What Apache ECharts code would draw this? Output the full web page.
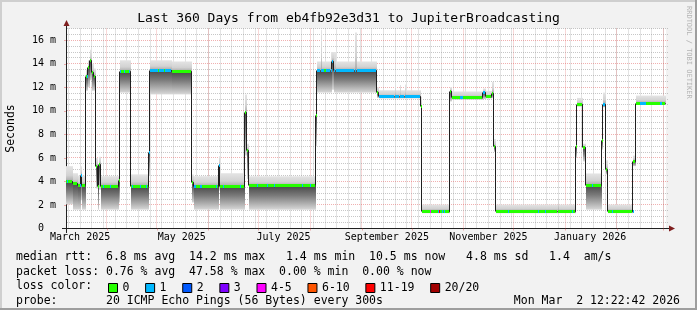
<!DOCTYPE html>
<html>
<head>
<meta charset="utf-8">
<script src="https://cdn.jsdelivr.net/npm/echarts@6.0.0/dist/echarts.min.js"></script>
<style>
html,body{margin:0;padding:0;background:#f2f2f2;overflow:hidden;}
#chart{width:697px;height:310px;}
</style>
</head>
<body>
<div id="chart"></div>
<script>
// ---------------- data ----------------
const titleText = 'Last 360 Days from eb4fb92e3d31 to JupiterBroadcasting';
const startTime = '2025-03-07 12:22:42';
const endTime   = '2026-03-02 12:22:42';

// piecewise segments of the median rtt (ms) and the smoke spread (ms)
const segStart = [
 '2025-03-07 12:22','2025-03-12 00:00','2025-03-14 10:00','2025-03-16 19:30','2025-03-17 09:45',
 '2025-03-19 19:20','2025-03-21 00:10','2025-03-22 05:00','2025-03-23 09:45','2025-03-24 14:30',
 '2025-03-25 19:20','2025-03-26 17:00','2025-03-27 14:30','2025-03-28 15:00','2025-04-08 04:15',
 '2025-04-08 18:40','2025-04-15 14:30','2025-04-26 04:00','2025-04-27 04:30','2025-05-10 09:00',
 '2025-05-22 04:30','2025-05-23 03:25','2025-06-07 03:25','2025-06-08 03:30','2025-06-23 03:40',
 '2025-06-24 03:50','2025-06-25 03:00','2025-08-04 13:00','2025-08-05 03:30','2025-08-07 17:15',
 '2025-08-08 08:00','2025-08-13 12:00','2025-08-14 07:00','2025-08-15 01:00','2025-08-16 16:00',
 '2025-08-28 00:00','2025-08-29 05:00','2025-09-10 03:00','2025-09-11 02:00','2025-09-21 02:00',
 '2025-09-21 16:00','2025-09-24 02:00','2025-09-24 16:00','2025-09-27 02:00','2025-09-27 16:00',
 '2025-10-06 12:15','2025-10-07 02:30','2025-10-24 01:40','2025-10-25 02:15','2025-11-12 20:50',
 '2025-11-14 15:35','2025-11-18 01:40','2025-11-19 00:40','2025-11-20 11:15','2025-12-27 14:00',
 '2025-12-28 08:00','2026-01-07 10:45','2026-01-08 01:00','2026-01-11 23:50','2026-01-13 10:40',
 '2026-01-23 00:30','2026-01-23 23:50','2026-01-25 10:25','2026-01-26 23:50','2026-02-10 23:45',
 '2026-02-12 10:15'
];
const segMedian = [
 4.0, 3.83, 3.66, 4.5, 3.66,
 12.96, 13.68, 14.24, 13.25, 12.96,
 5.3, 3.6, 5.45, 3.6, 4.1,
 13.35, 3.6, 6.5, 13.47, 13.35,
 3.9, 3.6, 5.36, 3.6, 9.85,
 6.6, 3.62, 9.6, 13.42, 13.42,
 13.42, 13.42, 14.2, 13.42, 13.42,
 13.42, 13.42, 11.55, 11.2, 11.2,
 11.2, 11.2, 11.2, 11.2, 11.2,
 10.36, 1.47, 11.68, 11.12, 11.55,
 11.18, 11.5, 6.95, 1.47, 1.47,
 1.47, 6.95, 10.55, 6.87, 3.69,
 7.5, 10.55, 5.0, 1.47, 5.73,
 10.64
];
const segLoss = [
 0,0,0,1,0, 0,0,0,0,0, 0,0,0,0,0, 0,0,1,1,0, 0,0,1,0,0, 0,0,0,1,1,
 1,1,1,1,1, 1,1,0,1,1, 1,1,1,1,1, 0,0,0,0,1, 0,0,0,0,0, 0,0,0,0,0,
 0,1,0,0,0, 0
];
const segMin = [
 2.05, 1.6, 1.6, 2.4, 1.6,
 11.7, 12.0, 12.6, 11.7, 11.7,
 3.4, 1.6, 3.3, 1.6, 2.2,
 11.55, 1.6, 4.5, 11.4, 11.4,
 2.2, 1.6, 3.2, 1.6, 6.2,
 4.2, 1.6, 7.0, 11.55, 11.55,
 11.55, 11.55, 11.8, 11.55, 11.55,
 11.55, 11.55, 11.1, 11.05, 11.05,
 11.05, 11.05, 11.05, 11.05, 11.05,
 10.2, 1.3, 10.8, 10.95, 11.0,
 11.05, 11.1, 6.5, 1.3, 1.3,
 1.3, 6.0, 10.36, 5.7, 1.6,
 6.7, 10.3, 4.6, 1.3, 5.3,
 10.5
];
const segMax = [
 5.3, 4.7, 4.5, 5.3, 4.5,
 13.5, 14.3, 15.2, 14.0, 13.6,
 6.0, 4.8, 6.1, 4.45, 4.9,
 14.3, 4.6, 7.0, 14.3, 14.2,
 4.6, 4.45, 6.15, 4.7, 11.4,
 7.2, 4.45, 10.2, 14.2, 16.9,
 14.2, 15.0, 15.0, 15.0, 14.2,
 16.65, 14.2, 12.0, 11.75, 12.25,
 11.75, 12.2, 11.75, 12.25, 11.75,
 11.2, 2.04, 12.0, 11.65, 11.9,
 11.7, 12.45, 7.6, 2.04, 2.75,
 2.04, 7.3, 11.1, 7.2, 4.68,
 8.0, 11.55, 5.8, 2.04, 6.2,
 11.3
];

// short stretches whose loss colour differs from their segment
const bitFrom = [
 '2025-03-08 05:40','2025-03-15 18:50','2025-03-20 05:30','2025-03-29 14:00','2025-04-02 18:40',
 '2025-04-08 18:40','2025-04-11 14:20','2025-04-14 04:15','2025-04-16 05:10','2025-04-21 04:30',
 '2025-04-24 18:50','2025-05-01 10:00','2025-05-05 10:00','2025-05-23 03:25','2025-05-27 04:00',
 '2025-06-05 18:25','2025-06-09 18:10','2025-06-20 03:40','2025-06-30 03:55','2025-07-06 03:40',
 '2025-07-10 03:00','2025-07-27 03:30','2025-08-01 03:00','2025-08-09 02:30','2025-10-11 16:00',
 '2025-10-16 11:00','2025-10-17 07:10','2025-10-19 02:20','2025-10-20 11:20','2025-10-30 04:20',
 '2025-11-27 12:00','2025-12-15 12:00','2025-12-20 00:00','2026-01-05 00:00','2026-01-17 00:00',
 '2026-01-29 00:00','2026-02-10 10:00','2026-02-15 00:00','2026-02-27 00:00'
];
const bitTo = [
 '2025-03-09 04:40','2025-03-16 15:00','2025-03-20 19:50','2025-03-31 05:00','2025-04-03 14:45',
 '2025-04-09 15:00','2025-04-12 09:00','2025-04-15 04:45','2025-04-17 04:15','2025-04-22 05:00',
 '2025-04-25 13:35','2025-05-02 12:00','2025-05-06 12:00','2025-05-25 04:30','2025-05-28 18:55',
 '2025-06-06 13:05','2025-06-11 03:15','2025-06-21 04:10','2025-07-01 03:00','2025-07-07 02:45',
 '2025-07-11 17:40','2025-07-28 02:40','2025-08-02 03:30','2025-08-11 03:30','2025-10-12 16:30',
 '2025-10-17 07:10','2025-10-18 12:00','2025-10-20 01:20','2025-10-21 11:50','2025-11-01 04:00',
 '2025-11-28 20:00','2025-12-16 20:00','2025-12-21 00:00','2026-01-06 00:00','2026-01-18 00:00',
 '2026-01-29 20:00','2026-02-10 23:45','2026-02-19 00:00','2026-03-01 00:00'
];
const bitLoss = [
 1,1,1,1,1, 1,1,1,1,1, 1,0,0,1,1, 1,1,1,1,1, 1,1,1,0,4, 1,6,1,1,1, 1,1,1,1,1, 1,1,1,1
];

const lossNames = ['0','1','2','3','4-5','6-10','11-19','20/20'];
const yTicks = [0, 2, 4, 6, 8, 10, 12, 14, 16];
const xLabelText = ['March 2025','May 2025','July 2025','September 2025','November 2025','January 2026'];
const xLabelAt = ['2025-03-16','2025-05-16','2025-07-16','2025-09-16','2025-11-16','2026-01-16'];

const statLines = [
 'median rtt:  6.8 ms avg  14.2 ms max   1.4 ms min  10.5 ms now   4.8 ms sd   1.4  am/s',
 'packet loss: 0.76 % avg  47.58 % max  0.00 % min  0.00 % now',
 'loss color:',
 'probe:       20 ICMP Echo Pings (56 Bytes) every 300s'
];
const stampText = 'Mon Mar  2 12:22:42 2026';
const watermark = 'RRDTOOL / TOBI OETIKER';

// ---------------- styles ----------------
const MONO = '"DejaVu Sans Mono", monospace';
const lossColors = ['#26ff00','#00b8ff','#0059ff','#7e00ff','#ff00ff','#ff5500','#ff0000','#a10000'];
const MINOR = 'rgba(143,143,143,0.5)';
const MAJOR = 'rgba(222,80,80,0.45)';

// ---------------- helpers ----------------
function T(s) {
  const m = s.match(/(\d+)-(\d+)-(\d+)(?:[ T](\d+):(\d+)(?::(\d+))?)?/);
  return Date.UTC(+m[1], +m[2] - 1, +m[3], +(m[4] || 0), +(m[5] || 0), +(m[6] || 0));
}
const t0 = T(startTime), t1 = T(endTime);
const segT = segStart.map(T);
const segEnd = segT.map((t, i) => (i + 1 < segT.length ? segT[i + 1] : t1));
function medianAt(t) {
  for (let i = segT.length - 1; i >= 0; i--) if (t >= segT[i]) return segMedian[i];
  return segMedian[0];
}
const xLabelMs = xLabelAt.map(T);
const snap = v => Math.floor(v) + 0.5;

// grid line positions (weeks, months, half-ms)
const gridItems = [];
for (let t = T('2025-03-09'); t < t1; t += 7 * 864e5) if (t > t0) gridItems.push([0, t]);
for (let y = 2025, m = 2; ; ) {
  const t = Date.UTC(y, m, 1);
  if (t > t1) break;
  if (t > t0) gridItems.push([1, t]);
  m++; if (m > 11) { m = 0; y++; }
}
const monthStarts = gridItems.filter(g => g[0] === 1).map(g => g[1]);
for (let k = 1; k <= 34; k++) { const v = k / 2; gridItems.push([v % 2 === 0 ? 3 : 2, v]); }

// ---------------- series ----------------
const series = [];

series.push({
  type: 'custom', name: 'grid', z: 1, silent: true, animation: false,
  data: gridItems, encode: { x: 1, y: 1 },
  renderItem(params, api) {
    const kind = api.value(0), v = api.value(1);
    const pTL = api.coord([t0, 17]), pBR = api.coord([t1, 0]);
    if (kind < 2) {
      const x = snap(api.coord([v, 0])[0]);
      return { type: 'line', z2: kind, shape: { x1: x, y1: pTL[1], x2: x, y2: pBR[1] - 1 },
        style: { stroke: kind ? MAJOR : MINOR, lineWidth: 1, lineDash: [1, 1] } };
    }
    const y = snap(api.coord([t0, v])[1]);
    return { type: 'line', z2: kind, shape: { x1: pTL[0] + 1, y1: y, x2: pBR[0] + 2, y2: y },
      style: { stroke: kind === 3 ? MAJOR : MINOR, lineWidth: 1, lineDash: [1, 1] } };
  }
});

const smokeData = segT.map((t, i) => [t, segEnd[i], segMin[i], segMedian[i], segMax[i]]);
series.push({
  type: 'custom', name: 'smoke', z: 2, silent: true, animation: false,
  data: smokeData, encode: { x: [0, 1], y: [2, 3, 4] },
  renderItem(params, api) {
    const a = api.coord([api.value(0), api.value(3)]);
    const b = api.coord([api.value(1), api.value(3)]);
    const lo = api.coord([api.value(0), api.value(2)]);
    const hi = api.coord([api.value(0), api.value(4)]);
    const x0 = Math.round(a[0]), x1 = Math.round(b[0]);
    const w = Math.max(1, x1 - x0);
    const ym = a[1];
    return { type: 'group', children: [
      { type: 'rect', shape: { x: x0, y: hi[1], width: w, height: Math.max(0, ym - hi[1]) },
        style: { fill: new echarts.graphic.LinearGradient(0, 0, 0, 1, [
          { offset: 0, color: '#e4e4e4' }, { offset: 0.6, color: '#d2d2d2' }, { offset: 1, color: '#a8a8a8' }]) } },
      { type: 'rect', shape: { x: x0, y: ym, width: w, height: Math.max(0, lo[1] - ym) },
        style: { fill: new echarts.graphic.LinearGradient(0, 0, 0, 1, [
          { offset: 0, color: '#484848' }, { offset: 0.4, color: '#7a7a7a' },
          { offset: 0.75, color: '#b0b0b0' }, { offset: 1, color: '#d8d8d8' }]) } }
    ] };
  }
});

// median rtt: horizontal run plus a crisp vertical connector to the next segment
const medianData = segT.map((t, i) => [t, segEnd[i], segMedian[i],
  i + 1 < segMedian.length ? segMedian[i + 1] : segMedian[i]]);
series.push({
  type: 'custom', name: 'median', z: 3, silent: true, animation: false,
  data: medianData, encode: { x: [0, 1], y: [2, 3] },
  renderItem(params, api) {
    const a = api.coord([api.value(0), api.value(2)]);
    const b = api.coord([api.value(1), api.value(2)]);
    const c = api.coord([api.value(1), api.value(3)]);
    const xa = Math.round(a[0]), xb = Math.round(b[0]);
    const y1 = snap(a[1]), y2 = snap(c[1]);
    const xv = xb - 0.5;
    return { type: 'polyline', shape: { points: [[xa, y1], [xv, y1], [xv, y2]] },
      style: { stroke: '#202020', lineWidth: 1, fill: null } };
  }
});

lossNames.forEach((name, c) => {
  const data = [];
  segT.forEach((t, i) => { if (segLoss[i] === c) data.push([t, segEnd[i], segMedian[i], 0]); });
  bitFrom.forEach((f, j) => {
    if (bitLoss[j] === c) { const tf = T(f); data.push([tf, T(bitTo[j]), medianAt(tf), 1]); }
  });
  series.push({
    type: 'custom', name, z: 4, silent: true, animation: false,
    itemStyle: { color: lossColors[c] },
    data, encode: { x: [0, 1], y: 2 },
    renderItem(params, api) {
      const a = api.coord([api.value(0), api.value(2)]);
      const b = api.coord([api.value(1), api.value(2)]);
      const x0 = Math.round(a[0]), x1 = Math.round(b[0]);
      return { type: 'rect', z2: api.value(3) ? 10 : 0,
        shape: { x: x0, y: Math.floor(a[1]) - 1, width: Math.max(1, x1 - x0 - 1), height: 3 },
        style: { fill: lossColors[c] } };
    }
  });
});

// ---------------- text ----------------
const legTxt = { fontFamily: MONO, fontSize: 11.5, fontWeight: 'normal', color: '#000' };
const rowTop = [251.5, 266, 280.5, 295];

const option = {
  backgroundColor: '#f2f2f2',
  animation: false,
  title: [
    { text: titleText, left: 'center', top: 12.5, padding: 0,
      textStyle: { fontFamily: MONO, fontSize: 13, fontWeight: 'normal', color: '#000' } },
    { text: statLines[0], left: 16, top: rowTop[0], padding: 0, textStyle: legTxt },
    { text: statLines[1], left: 16, top: rowTop[1], padding: 0, textStyle: legTxt },
    { text: statLines[2], left: 16, top: rowTop[2], padding: 0, textStyle: legTxt },
    { text: statLines[3], left: 16, top: rowTop[3], padding: 0, textStyle: legTxt },
    { text: stampText, right: 17, top: rowTop[3], padding: 0, textStyle: legTxt }
  ],
  legend: {
    data: lossNames, left: 108, top: rowTop[2] + 1.5, padding: 0,
    itemWidth: 9, itemHeight: 9, itemGap: 15.7, icon: 'rect', selectedMode: false,
    itemStyle: { borderColor: '#000', borderWidth: 1 },
    textStyle: legTxt
  },
  grid: { left: 66, top: 28.5, width: 600, height: 200, show: true,
    backgroundColor: '#ffffff', borderWidth: 0,
    containLabel: false, outerBoundsMode: 'none' },
  xAxis: {
    type: 'value', min: t0, max: t1,
    axisLine: { show: true, lineStyle: { color: '#202020', width: 1 } },
    axisTick: { show: true, customValues: monthStarts, length: 2, lineStyle: { color: MAJOR } },
    axisLabel: { show: true, customValues: xLabelMs, margin: 3.5, hideOverlap: false,
      showMinLabel: true, showMaxLabel: true,
      fontFamily: MONO, fontSize: 10, color: '#000',
      formatter: v => { const i = xLabelMs.indexOf(v); return i >= 0 ? xLabelText[i] : ''; } },
    splitLine: { show: false }
  },
  yAxis: {
    type: 'value', min: 0, max: 17, interval: 2,
    name: 'Seconds', nameLocation: 'middle', nameGap: 48.5, nameRotate: 90,
    nameTextStyle: { fontFamily: MONO, fontSize: 11.5, color: '#000' },
    axisLine: { show: true, lineStyle: { color: '#202020', width: 1 } },
    axisTick: { show: true, customValues: yTicks.slice(1), length: 2, lineStyle: { color: MAJOR } },
    axisLabel: { show: true, customValues: yTicks, margin: 10,
      fontFamily: MONO, fontSize: 10, color: '#000',
      formatter: v => (v === 0 ? '0  ' : v + ' m') },
    splitLine: { show: false }
  },
  graphic: [
    { type: 'rect', shape: { x: 0, y: 0, width: 697, height: 2 }, style: { fill: '#cfcfcf' }, silent: true },
    { type: 'rect', shape: { x: 0, y: 0, width: 2, height: 310 }, style: { fill: '#cfcfcf' }, silent: true },
    { type: 'rect', shape: { x: 0, y: 308, width: 697, height: 2 }, style: { fill: '#9e9e9e' }, silent: true },
    { type: 'rect', shape: { x: 695, y: 0, width: 2, height: 310 }, style: { fill: '#9e9e9e' }, silent: true },
    // axis extensions and arrows
    { type: 'line', shape: { x1: 62, y1: 228.5, x2: 670, y2: 228.5 }, style: { stroke: '#202020', lineWidth: 1 }, silent: true },
    { type: 'line', shape: { x1: 66.5, y1: 233, x2: 66.5, y2: 25 }, style: { stroke: '#202020', lineWidth: 1 }, silent: true },
    { type: 'polygon', shape: { points: [[669, 225.5], [669, 231.5], [675, 228.5]] }, style: { fill: '#7f1f1f' }, silent: true },
    { type: 'polygon', shape: { points: [[63.5, 26], [69.5, 26], [66.5, 20]] }, style: { fill: '#7f1f1f' }, silent: true },
    { type: 'text', x: 689, y: 6, rotation: -Math.PI / 2, silent: true,
      style: { text: watermark, fill: '#b4b4b4', font: '7px "DejaVu Sans Mono"', textAlign: 'left', textVerticalAlign: 'middle' } }
  ],
  series
};

const chart = echarts.init(document.getElementById('chart'), null, { renderer: 'canvas' });
chart.setOption(option);
</script>
</body>
</html>
